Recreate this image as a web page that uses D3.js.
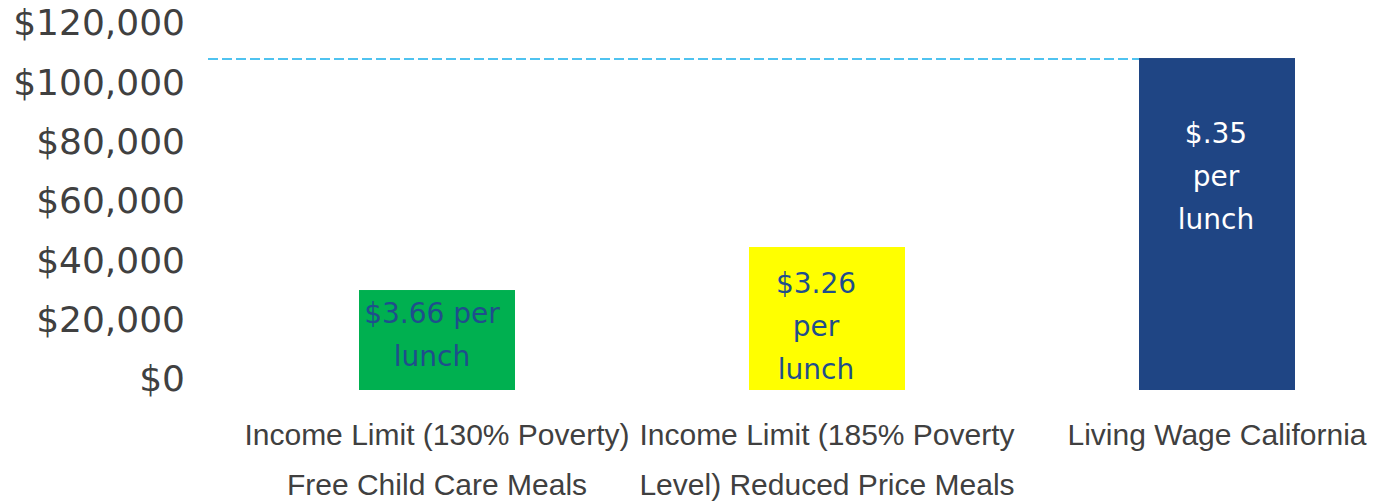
<!DOCTYPE html>
<html>
<head>
<meta charset="utf-8">
<script src="https://cdn.jsdelivr.net/npm/d3@7"></script>
<style>
  html, body { margin: 0; padding: 0; background: #fff; }
  #wrapper { width: 1376px; height: 501px; overflow: hidden; }
</style>
</head>
<body>
<div id="wrapper"></div>
<script>
// data
const categoryLines = [
  ["Income Limit (130% Poverty)", "Free Child Care Meals"],
  ["Income Limit (185% Poverty", "Level) Reduced Price Meals"],
  ["Living Wage California"],
]
const incomes = [33700, 48200, 111900]
const barLabels = [
  ["$3.66 per", "lunch"],
  ["$3.26", "per", "lunch"],
  ["$.35", "per", "lunch"],
]
const referenceIncome = 111900
const yTicks = [0, 20000, 40000, 60000, 80000, 100000, 120000]

// styles
const barColors = ["#00b050", "#ffff00", "#1f4584"]
const barTextColors = ["#1f4e8c", "#1f4e8c", "#ffffff"]
const barLabelTop = [33, 46, 85]     // first baseline below bar top (hand placed text boxes)
const barLabelShift = [-5, -11, -1]

function drawChart() {

  //..................................................
  // dimensions
  const dimensions = {
    width: 1376,
    height: 501,
    axisLeft: 208,
    bandStart: 242,
    bandEnd: 1412,
    top: 34,
    bottom: 390,
  }

  //..................................................
  // canvas
  const svg = d3.select("#wrapper")
    .append("svg")
      .attr("width", dimensions.width)
      .attr("height", dimensions.height)

  //..................................................
  // scales
  const idx = d3.range(incomes.length)

  const xScale = d3.scaleBand()
    .domain(idx)
    .range([dimensions.bandStart, dimensions.bandEnd])
    .paddingInner(0.6)
    .paddingOuter(0.3)

  const yScale = d3.scaleLinear()
    .domain([0, 120000])
    .range([dimensions.bottom, dimensions.top])

  //..................................................
  // y axis labels (no line, no ticks)
  const yAxisGenerator = d3.axisLeft(yScale)
    .tickValues(yTicks)
    .tickSize(0)
    .tickPadding(0)
    .tickFormat(d => "$" + d3.format(",")(d))

  const yAxis = svg.append("g")
      .attr("transform", "translate(185, -12)")
      .call(yAxisGenerator)

  yAxis.select(".domain").remove()
  yAxis.selectAll("text")
      .attr("font-family", "DejaVu Sans")
      .attr("font-size", 36)
      .attr("fill", "#404040")
      .attr("dy", "0.36em")

  //..................................................
  // bars
  svg.selectAll(".bar")
    .data(idx)
    .join("rect")
      .attr("class", "bar")
      .attr("x", i => xScale(i))
      .attr("width", xScale.bandwidth())
      .attr("y", i => yScale(incomes[i]))
      .attr("height", i => yScale(0) - yScale(incomes[i]))
      .attr("fill", i => barColors[i])

  // dashed reference line
  svg.append("line")
      .attr("x1", dimensions.axisLeft)
      .attr("x2", xScale(2))
      .attr("y1", yScale(referenceIncome) + 1)
      .attr("y2", yScale(referenceIncome) + 1)
      .attr("stroke", "#4fc3f0")
      .attr("stroke-width", 2)
      .attr("stroke-dasharray", "10 4")

  // labels inside bars
  const barText = svg.selectAll(".bar-label")
    .data(idx)
    .join("text")
      .attr("class", "bar-label")
      .attr("text-anchor", "middle")
      .attr("font-family", "DejaVu Sans")
      .attr("font-size", 28)
      .attr("fill", i => barTextColors[i])

  barText.selectAll("tspan")
    .data(i => barLabels[i].map((t, k) => ({ t, k, i })))
    .join("tspan")
      .attr("x", d => xScale(d.i) + xScale.bandwidth() / 2 + barLabelShift[d.i])
      .attr("y", d => yScale(incomes[d.i]) + barLabelTop[d.i] + d.k * 43)
      .text(d => d.t)

  //..................................................
  // category labels
  const catText = svg.selectAll(".cat-label")
    .data(idx)
    .join("text")
      .attr("class", "cat-label")
      .attr("text-anchor", "middle")
      .attr("font-family", "Liberation Sans")
      .attr("font-size", 30)
      .attr("fill", "#404040")

  catText.selectAll("tspan")
    .data(i => categoryLines[i].map((t, k) => ({ t, k, i })))
    .join("tspan")
      .attr("x", d => xScale(d.i) + xScale.bandwidth() / 2)
      .attr("y", d => 445 + d.k * 50)
      .text(d => d.t)
}
drawChart()
</script>
</body>
</html>
